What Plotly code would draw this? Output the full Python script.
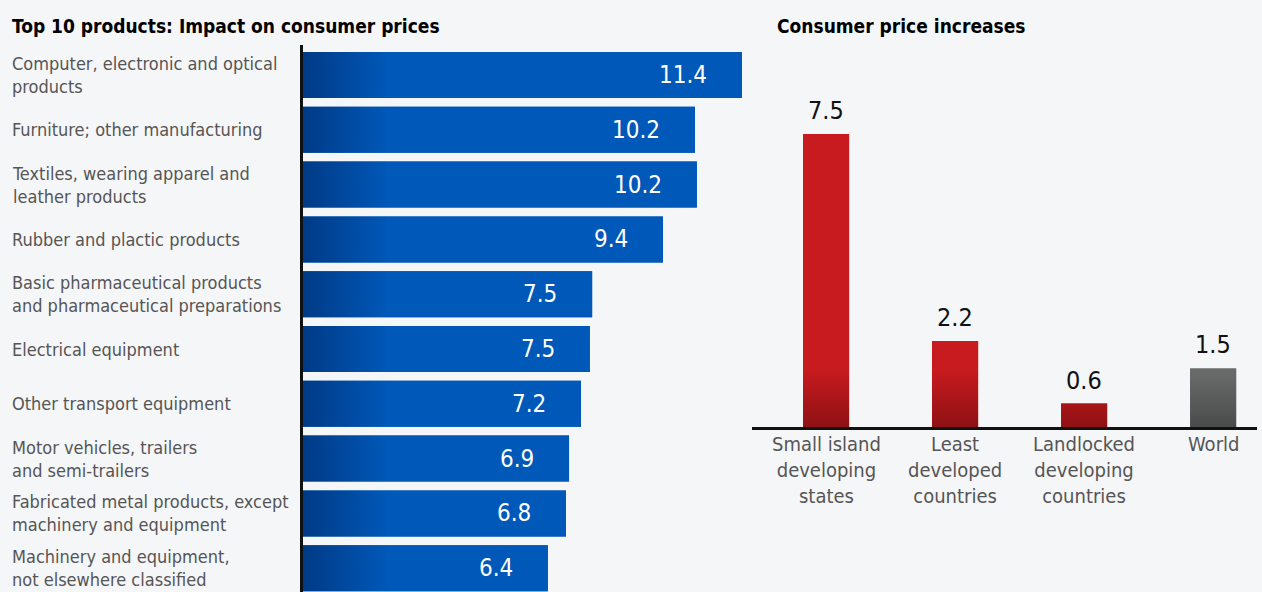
import plotly.graph_objects as go

# ---------------- data ----------------
products = [
    "Computer, electronic and optical<br>products",
    "Furniture; other manufacturing",
    "Textiles, wearing apparel and<br>leather products",
    "Rubber and plactic products",
    "Basic pharmaceutical products<br>and pharmaceutical preparations",
    "Electrical equipment",
    "Other transport equipment",
    "Motor vehicles, trailers<br>and semi-trailers",
    "Fabricated metal products, except<br>machinery and equipment",
    "Machinery and equipment,<br>not elsewhere classified",
]
product_values = [11.4, 10.18, 10.23, 9.35, 7.51, 7.45, 7.22, 6.91, 6.83, 6.36]
product_labels = ["11.4", "10.2", "10.2", "9.4", "7.5", "7.5", "7.2", "6.9", "6.8", "6.4"]

groups = ["Small island<br>developing<br>states", "Least<br>developed<br>countries",
          "Landlocked<br>developing<br>countries", "World"]
group_values = [7.5, 2.2, 0.6, 1.5]
group_labels = ["7.5", "2.2", "0.6", "1.5"]

# ---------------- style ----------------
W, H = 1262, 592
BG = "#f5f6f8"
FONT = "DejaVu Sans Condensed, DejaVu Sans, sans-serif"
BLUE = "#0058b8"
BLUE_DARK = "#013a86"
RED = "#c81b1f"
RED_DARK = "#8f1114"
GREY = "#6a6d6b"
GREY_DARK = "#4a4c4c"
BAR_W_L = 0.84
BAR_W_R = 0.357

fig = go.Figure()

# left chart: horizontal bars
idx = list(range(len(products)))
fig.add_trace(go.Bar(
    x=product_values, y=idx, orientation="h", width=BAR_W_L,
    marker=dict(color=BLUE, line=dict(width=0)),
    xaxis="x", yaxis="y", hoverinfo="x", showlegend=False,
))
# gradient overlay polygons built from the same data
px, py = [], []
for i, v in enumerate(product_values):
    y0, y1 = i - BAR_W_L / 2, i + BAR_W_L / 2
    px += [0, v, v, 0, 0, None]
    py += [y0, y0, y1, y1, y0, None]
fig.add_trace(go.Scatter(
    x=px, y=py, mode="lines", fill="toself", line=dict(width=0),
    fillgradient=dict(type="horizontal", start=0, stop=2.2,
                      colorscale=[[0, BLUE_DARK], [1, BLUE]]),
    xaxis="x", yaxis="y", hoverinfo="skip", showlegend=False,
))

# right chart: vertical bars
gidx = list(range(len(groups)))
fig.add_trace(go.Bar(
    x=gidx, y=group_values, width=BAR_W_R,
    marker=dict(color=[RED, RED, RED, GREY], line=dict(width=0)),
    xaxis="x2", yaxis="y2", hoverinfo="y", showlegend=False,
))
for colors, sel in (((RED_DARK, RED), [0, 1, 2]), ((GREY_DARK, GREY), [3])):
    qx, qy = [], []
    for i in sel:
        v = group_values[i]
        x0, x1 = i - BAR_W_R / 2, i + BAR_W_R / 2
        qx += [x0, x1, x1, x0, x0, None]
        qy += [0, 0, v, v, 0, None]
    fig.add_trace(go.Scatter(
        x=qx, y=qy, mode="lines", fill="toself", line=dict(width=0),
        fillgradient=dict(type="vertical", start=0, stop=1.5,
                          colorscale=[[0, colors[0]], [1, colors[1]]]),
        xaxis="x2", yaxis="y2", hoverinfo="skip", showlegend=False,
    ))

annotations = []
# value labels left
for i, (v, t) in enumerate(zip(product_values, product_labels)):
    annotations.append(dict(x=v, y=i, xref="x", yref="y", text=t, showarrow=False,
                            xanchor="right", yanchor="middle", xshift=-33,
                            font=dict(family=FONT, size=24, color="white")))
# category labels left (left-aligned at page edge)
PLOT_T, PLOT_H = 45, H - 45
for i, name in enumerate(products):
    annotations.append(dict(x=10 / W, y=i, xref="paper", yref="y", text=name,
                            showarrow=False, xanchor="left", yanchor="middle",
                            align="left",
                            font=dict(family=FONT, size=18, color="#555555")))
# value labels right
for i, (v, t) in enumerate(zip(group_values, group_labels)):
    annotations.append(dict(x=i, y=v, xref="x2", yref="y2", text=t, showarrow=False,
                            xanchor="center", yanchor="bottom", yshift=7,
                            font=dict(family=FONT, size=25, color="#111111")))
# category labels right
for i, name in enumerate(groups):
    annotations.append(dict(x=i, y=0, xref="x2", yref="y2", text=name, showarrow=False,
                            xanchor="center", yanchor="top", yshift=-3, align="center",
                            font=dict(family=FONT, size=20, color="#555555")))
# titles
annotations.append(dict(x=10 / W, y=1 - (26 - PLOT_T) / PLOT_H, xref="paper", yref="paper",
                        text="<b>Top 10 products: Impact on consumer prices</b>",
                        showarrow=False, xanchor="left", yanchor="middle",
                        font=dict(family=FONT, size=19, color="#000000")))
annotations.append(dict(x=775 / W, y=1 - (26 - PLOT_T) / PLOT_H, xref="paper", yref="paper",
                        text="<b>Consumer price increases</b>",
                        showarrow=False, xanchor="left", yanchor="middle",
                        font=dict(family=FONT, size=19, color="#000000")))

# axes geometry
L_X0, L_X1 = 303, 750
R_X0, R_X1 = 752, 1257
L_SCALE = 38.5   # px per unit
R_SCALE = 39.07
R_BASE = 427
R_TOP = 60
pitch = 54.8
first_c = 75

fig.update_layout(
    width=W, height=H,
    margin=dict(l=0, r=0, t=PLOT_T, b=0),
    paper_bgcolor=BG, plot_bgcolor="rgba(0,0,0,0)",
    barmode="overlay",
    font=dict(family=FONT),
    xaxis=dict(domain=[L_X0 / W, L_X1 / W], range=[0, (L_X1 - L_X0) / L_SCALE],
               visible=False, fixedrange=True),
    yaxis=dict(domain=[0, 1],
               range=[(H - first_c) / pitch, -(first_c - PLOT_T) / pitch],
               showticklabels=False, showgrid=False, zeroline=False, ticks="",
               showline=True, linecolor="#111111", linewidth=2.5,
               anchor="x", position=L_X0 / W),
    xaxis2=dict(domain=[R_X0 / W, R_X1 / W], range=[-0.574, 3.34],
                showticklabels=False, showgrid=False, zeroline=False, ticks="",
                showline=True, linecolor="#111111", linewidth=2.5, anchor="y2"),
    yaxis2=dict(domain=[1 - (R_BASE - PLOT_T) / PLOT_H, 1 - (R_TOP - PLOT_T) / PLOT_H],
                range=[0, (R_BASE - R_TOP) / R_SCALE], visible=False, anchor="x2"),
    annotations=annotations,
)

fig.write_html(
    "out.html",
    config={"displayModeBar": False},
    post_script="document.body.style.margin='0';document.body.style.background='%s';" % BG,
)
